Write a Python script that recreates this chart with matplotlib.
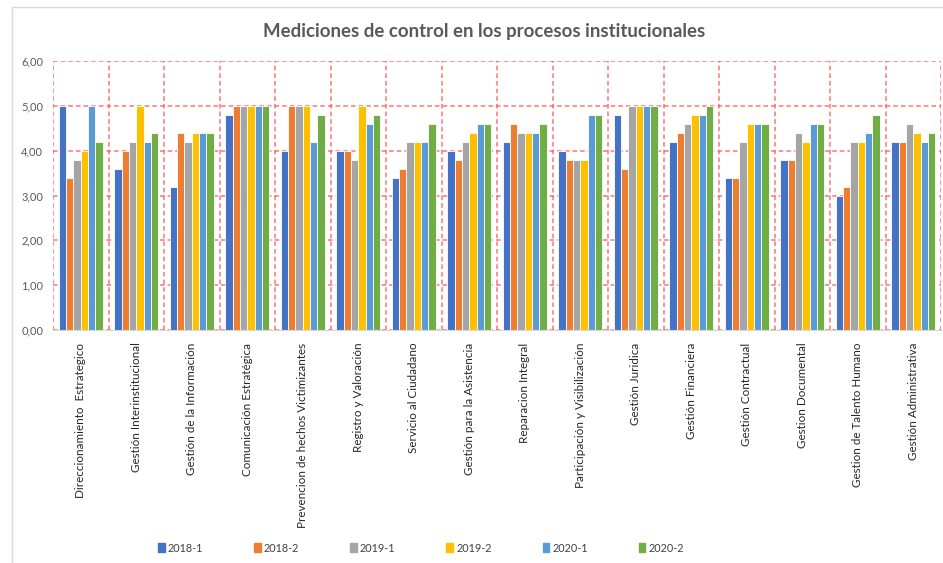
import numpy as np
import matplotlib
matplotlib.use('Agg')
import matplotlib.pyplot as plt
from matplotlib.lines import Line2D

plt.rcParams['font.family'] = ['Lato', 'DejaVu Sans']

# ------------------------------------------------------------
# DATA
# ------------------------------------------------------------
procesos = [
    "Direccionamiento  Estrategico", "Gestión Interinstitucional",
    "Gestión de la Información", "Comunicación Estratégica",
    "Prevencion de hechos Victimizantes", "Registro y Valoración",
    "Servicio al Ciudadano", "Gestión para la Asistencia",
    "Reparacion Integral", "Participación y Visibilización",
    "Gestión Juridica", "Gestión Financiera", "Gestión Contractual",
    "Gestion Documental", "Gestion de Talento Humano", "Gestión Administrativa",
]
periodos = ["2018-1", "2018-2", "2019-1", "2019-2", "2020-1", "2020-2"]

v_2018_1 = [5.0, 3.6, 3.2, 4.8, 4.0, 4.0, 3.4, 4.0, 4.2, 4.0, 4.8, 4.2, 3.4, 3.8, 3.0, 4.2]
v_2018_2 = [3.4, 4.0, 4.4, 5.0, 5.0, 4.0, 3.6, 3.8, 4.6, 3.8, 3.6, 4.4, 3.4, 3.8, 3.2, 4.2]
v_2019_1 = [3.8, 4.2, 4.2, 5.0, 5.0, 3.8, 4.2, 4.2, 4.4, 3.8, 5.0, 4.6, 4.2, 4.4, 4.2, 4.6]
v_2019_2 = [4.0, 5.0, 4.4, 5.0, 5.0, 5.0, 4.2, 4.4, 4.4, 3.8, 5.0, 4.8, 4.6, 4.2, 4.2, 4.4]
v_2020_1 = [5.0, 4.2, 4.4, 5.0, 4.2, 4.6, 4.2, 4.6, 4.4, 4.8, 5.0, 4.8, 4.6, 4.6, 4.4, 4.2]
v_2020_2 = [4.2, 4.4, 4.4, 5.0, 4.8, 4.8, 4.6, 4.6, 4.6, 4.8, 5.0, 5.0, 4.6, 4.6, 4.8, 4.4]

series = [v_2018_1, v_2018_2, v_2019_1, v_2019_2, v_2020_1, v_2020_2]
colores = ['#4472C4', '#ED7D31', '#A5A5A5', '#FFC000', '#5B9BD5', '#70AD47']

# ------------------------------------------------------------
# FIGURE
# ------------------------------------------------------------
fig = plt.figure(figsize=(9.43, 5.63), dpi=100)
ax = fig.add_axes([53/943, 1 - 330/563, 888/943, 269/563])

# faint outer chart frame (left + top)
fig.add_artist(Line2D([12/943, 12/943], [0, 1 - 7/563], color='#D9D9D9', lw=1))
fig.add_artist(Line2D([12/943, 1], [1 - 7/563, 1 - 7/563], color='#D9D9D9', lw=1))

x = np.arange(len(procesos))
n = len(series)
grupo = 0.79
w = grupo / n
for i, (vals, c) in enumerate(zip(series, colores)):
    ax.bar(x - grupo/2 + w*(i + 0.5), vals, width=w, color=c,
           edgecolor='white', linewidth=0.6, label=periodos[i], zorder=3)

ax.set_xlim(-0.5, len(procesos) - 0.5)
ax.set_ylim(0, 6)
ax.set_yticks(np.arange(0, 7, 1))
ax.set_yticklabels([f"{v:.2f}".replace('.', ',') for v in np.arange(0, 7, 1)],
                   fontsize=8, color='#595959')
ax.set_xticks(x)
ax.set_xticklabels(procesos, rotation=90, fontsize=8.4, color='#262626',
                   va='top', ha='center')
ax.set_xticks(np.arange(-0.5, len(procesos), 1), minor=True)
ax.tick_params(axis='both', length=0, which='both')
ax.tick_params(axis='y', pad=7)
ax.tick_params(axis='x', pad=9)

grid_kw = dict(color='#FF5A5F', linestyle=(0, (3, 2)), linewidth=1.1, alpha=0.85)
ax.yaxis.grid(True, **grid_kw, zorder=1)
ax.xaxis.grid(True, which='minor', **grid_kw, zorder=1)
ax.xaxis.grid(False, which='major')

for s in ['top', 'right', 'left']:
    ax.spines[s].set_visible(False)
ax.spines['bottom'].set_color('#D9D9D9')
ax.spines['bottom'].set_zorder(4)

fig.text(484/943, 1 - 31/563, "Mediciones de control en los procesos institucionales",
         ha='center', va='center', fontsize=13.4, fontweight='bold', color='#595959')

handles = [plt.Rectangle((0, 0), 1, 1, color=c) for c in colores]
fig.legend(handles, periodos, loc='center', bbox_to_anchor=(421/943, 1 - 548/563),
           ncol=6, frameon=False, fontsize=7.8, handlelength=0.6, handleheight=0.9,
           handletextpad=0.3, columnspacing=4.7, labelcolor='#404040')

fig.savefig('out.png', dpi=100, facecolor='white')
